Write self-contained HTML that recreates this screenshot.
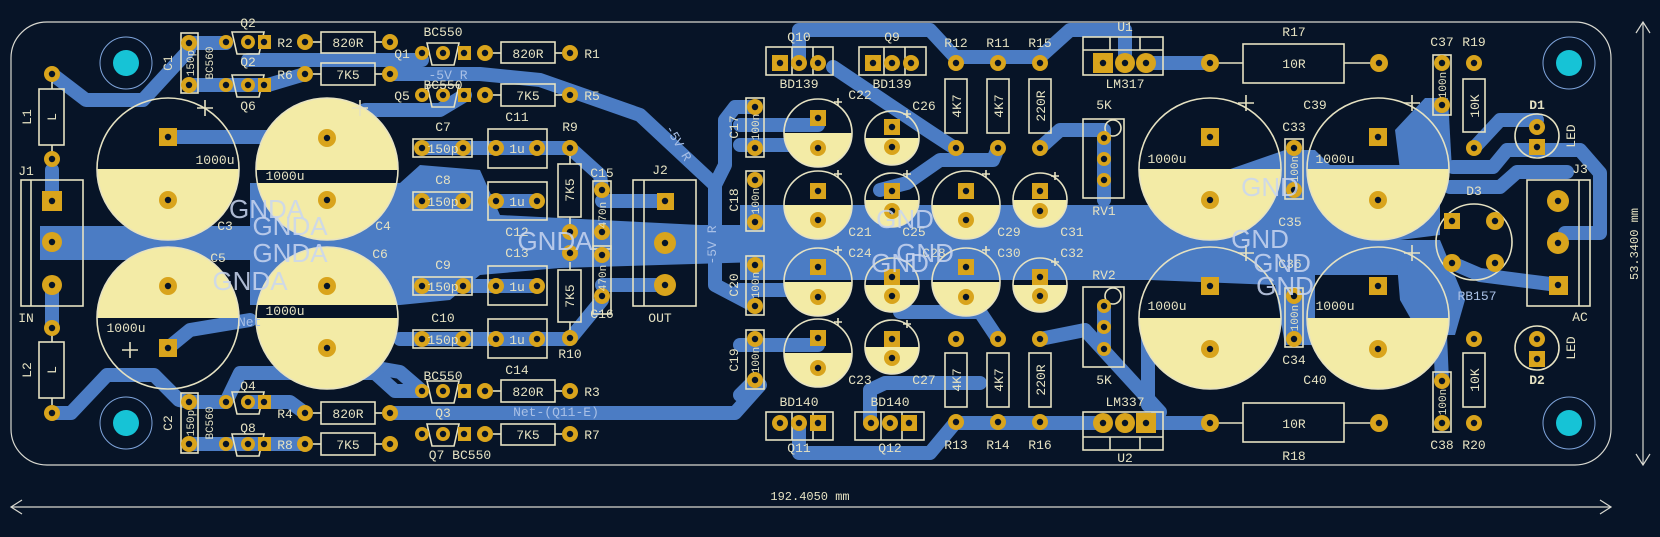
<!DOCTYPE html>
<html><head><meta charset="utf-8"><style>
html,body{margin:0;padding:0;background:#071427;}
svg{display:block}
.tr{fill:none;stroke:#4b7cc4;stroke-linecap:round;stroke-linejoin:round}
.pour{fill:#4b7cc4}
.s{fill:none;stroke:#e6e2c2;stroke-width:1.6}
.y{fill:#f3eba6}
.pd{fill:#d9a41c}
.h{fill:#071427}
.hh circle{fill:#071427;r:3.2px}
.hs circle{fill:#071427;r:3.5px}
text{font-family:"Liberation Mono","DejaVu Sans Mono",monospace;fill:#e6e2c2;font-size:13px}
.g{fill:#c9d6f0;font-family:"Liberation Sans",sans-serif;font-size:26px;opacity:.85}
.b{fill:#a9c0e6}
</style></head><body>
<svg width="1660" height="537" viewBox="0 0 1660 537" xmlns="http://www.w3.org/2000/svg">
<rect width="1660" height="537" fill="#071427"/>
<rect x="11" y="22" width="1600" height="443" rx="36" fill="none" stroke="#d8d8d0" stroke-width="1.2"/>
<line x1="11" y1="507" x2="1611" y2="507" stroke="#d8d8d0" stroke-width="1.2"/>
<path d="M22 500 L11 507 L22 514 M1600 500 L1611 507 L1600 514" fill="none" stroke="#d8d8d0" stroke-width="1.2"/>
<text x="810" y="500" text-anchor="middle" style="font-size:12px">192.4050 mm</text>
<line x1="1643" y1="22" x2="1643" y2="465" stroke="#d8d8d0" stroke-width="1.2"/>
<path d="M1636 33 L1643 22 L1650 33 M1636 454 L1643 465 L1650 454" fill="none" stroke="#d8d8d0" stroke-width="1.2"/>
<text transform="translate(1638,244) rotate(-90)" text-anchor="middle" style="font-size:12px">53.3400 mm</text>

<polygon class="pour" points="40,226 250,226 250,183 400,183 420,165 480,170 500,215 560,218 700,225 760,225 760,262 560,268 480,275 450,300 400,305 250,305 250,260 40,260"/>
<polygon class="pour" points="740,205 1150,205 1170,190 1285,150 1315,150 1330,165 1440,165 1440,235 1400,240 1400,275 1315,275 1315,345 1285,345 1275,285 1150,280 740,280"/>
<polygon class="pour" points="1395,130 1425,98 1448,98 1452,170 1400,170"/>
<polygon class="pour" points="1395,240 1440,240 1465,300 1455,335 1420,335 1400,300"/>

<g class="tr" stroke-width="14">
<polyline points="52,74 86,100 143,100 189,50"/>
<polyline points="189,43 226,43"/>
<polyline points="248,60 422,60"/>
<polyline points="189,85 268,85 305,74"/>
<polyline points="390,74 480,74 540,80 640,115 715,185 715,285 755,306"/>
<polyline points="755,107 735,107 725,120 725,165 715,185"/>
<polyline points="168,137 327,137"/>
<polyline points="327,137 365,110 440,110 465,95"/>
<polyline points="422,148 570,148 600,175 602,190"/>
<polyline points="390,201 537,201"/>
<polyline points="400,286 537,286"/>
<polyline points="400,339 570,339 602,300"/>
<polyline points="327,348 360,365 400,372 422,391"/>
<polyline points="390,413 735,413 760,385"/>
<polyline points="52,413 71,413 107,375 154,375 179,400 189,402"/>
<polyline points="189,402 226,402"/>
<polyline points="248,402 290,402 305,413"/>
<polyline points="189,444 305,444"/>
<polyline points="226,402 240,373 375,373 395,391 422,391"/>
<polyline points="52,170 52,200"/>
<polyline points="52,285 52,328"/>
<polyline points="168,348 190,330 250,320"/>
<polyline points="602,201 665,201"/>
<polyline points="602,285 665,285"/>
<polyline points="799,63 799,30 930,30 955,57 1040,57 1070,30 1125,30 1125,63"/>
<polyline points="833,67 927,130 953,147"/>
<polyline points="880,190 907,183 940,160 993,160 998,148"/>
<polyline points="1040,148 1060,130 1104,130 1104,200"/>
<polyline points="740,125 818,125"/>
<polyline points="740,145 800,145"/>
<polyline points="740,290 818,290"/>
<polyline points="740,345 818,345"/>
<polyline points="755,380 740,395"/>
<polyline points="799,423 799,453 930,453 955,423 1104,423"/>
<polyline points="870,423 870,390 885,383 980,383"/>
<polyline points="900,312 980,312 998,339"/>
<polyline points="1040,339 1085,330 1140,390 1160,412"/>
<polyline points="1104,306 1104,349"/>
<polyline points="1146,63 1210,63"/>
<polyline points="1146,423 1210,423"/>
<polyline points="1148,330 1148,405"/>
<polyline points="1474,148 1500,120 1537,120"/>
<polyline points="1453,167 1493,167 1507,150 1580,150 1600,173 1600,233 1565,233"/>
<polyline points="1450,187 1500,187 1517,172 1567,172"/>
<polyline points="1452,263 1480,275 1558,285"/>
<polyline points="1440,335 1442,381"/>
</g>

<g class="y">
<path d="M97 169 A71 71 0 0 0 239 169 Z"/>
<path d="M97 318 A71 71 0 0 1 239 318 Z"/>
<circle cx="327" cy="169" r="71"/>
<circle cx="327" cy="318" r="71"/>
<path d="M1139 169 A71 71 0 0 0 1281 169 Z"/>
<path d="M1307 169 A71 71 0 0 0 1449 169 Z"/>
<path d="M1139 318 A71 71 0 0 0 1281 318 Z"/>
<path d="M1307 318 A71 71 0 0 0 1449 318 Z"/>
<path d="M784 133 A34 34 0 0 0 852 133 Z"/>
<path d="M784 205 A34 34 0 0 0 852 205 Z"/>
<path d="M932 205 A34 34 0 0 0 1000 205 Z"/>
<path d="M784 282 A34 34 0 0 0 852 282 Z"/>
<path d="M932 282 A34 34 0 0 0 1000 282 Z"/>
<path d="M784 353 A34 34 0 0 0 852 353 Z"/>
<path d="M865 138 A27 27 0 0 0 919 138 Z"/>
<path d="M865 200 A27 27 0 0 0 919 200 Z"/>
<path d="M1013 200 A27 27 0 0 0 1067 200 Z"/>
<path d="M865 285 A27 27 0 0 0 919 285 Z"/>
<path d="M1013 285 A27 27 0 0 0 1067 285 Z"/>
<path d="M865 347 A27 27 0 0 0 919 347 Z"/>
</g>
<rect x="256" y="170" width="142" height="13" fill="#071427"/>
<rect x="256" y="305" width="142" height="13" fill="#071427"/>

<g class="s">
<circle cx="168" cy="169" r="71"/><circle cx="168" cy="318" r="71"/>
<circle cx="327" cy="169" r="71"/><circle cx="327" cy="318" r="71"/>
<circle cx="1210" cy="169" r="71"/><circle cx="1378" cy="169" r="71"/>
<circle cx="1210" cy="318" r="71"/><circle cx="1378" cy="318" r="71"/>
<circle cx="818" cy="133" r="34"/><circle cx="818" cy="205" r="34"/><circle cx="966" cy="205" r="34"/>
<circle cx="818" cy="282" r="34"/><circle cx="966" cy="282" r="34"/><circle cx="818" cy="353" r="34"/>
<circle cx="892" cy="138" r="27"/><circle cx="892" cy="200" r="27"/><circle cx="1040" cy="200" r="27"/>
<circle cx="892" cy="285" r="27"/><circle cx="1040" cy="285" r="27"/><circle cx="892" cy="347" r="27"/>
<path d="M205 100v16M197 108h16 M360 100v16M352 108h16 M130 342v16M122 350h16 M1246 95v16M1238 103h16 M1412 95v16M1404 103h16 M1412 245v16M1404 253h16 M1246 245v16M1238 253h16"/>
<path d="M838 98v8M834 102h8 M907 110v8M903 114h8 M838 170v8M834 174h8 M907 170v8M903 174h8 M986 170v8M982 174h8 M1055 172v8M1051 176h8 M838 246v8M834 250h8 M986 246v8M982 250h8 M1055 258v8M1051 262h8 M838 318v8M834 322h8 M907 320v8M903 324h8"/>
<rect x="39" y="89" width="25" height="56"/><rect x="39" y="342" width="25" height="56"/>
<line x1="52" y1="82" x2="52" y2="89"/><line x1="52" y1="145" x2="52" y2="152"/>
<line x1="52" y1="335" x2="52" y2="342"/><line x1="52" y1="398" x2="52" y2="405"/>
<rect x="21" y="180" width="62" height="126"/><line x1="31" y1="180" x2="31" y2="306"/>
<rect x="181" y="33" width="17" height="60"/><rect x="181" y="393" width="17" height="60"/>
<path d="M232 32 h32 l-5 22 h-22 z M232 75 h32 l-5 22 h-22 z M232 392 h32 l-5 22 h-22 z M232 434 h32 l-5 22 h-22 z"/>
<path d="M427 43 h32 l-5 22 h-22 z M427 85 h32 l-5 22 h-22 z M427 381 h32 l-5 22 h-22 z M427 424 h32 l-5 22 h-22 z"/>
<rect x="321" y="32" width="54" height="21"/><rect x="321" y="63" width="54" height="22"/>
<rect x="321" y="402" width="54" height="22"/><rect x="321" y="433" width="54" height="22"/>
<line x1="313" y1="42" x2="321" y2="42"/><line x1="375" y1="42" x2="382" y2="42"/>
<line x1="313" y1="74" x2="321" y2="74"/><line x1="375" y1="74" x2="382" y2="74"/>
<line x1="313" y1="413" x2="321" y2="413"/><line x1="375" y1="413" x2="382" y2="413"/>
<line x1="313" y1="444" x2="321" y2="444"/><line x1="375" y1="444" x2="382" y2="444"/>
<rect x="501" y="42" width="54" height="21"/><rect x="501" y="84" width="54" height="22"/>
<rect x="501" y="380" width="54" height="22"/><rect x="501" y="424" width="54" height="21"/>
<line x1="493" y1="53" x2="501" y2="53"/><line x1="555" y1="53" x2="562" y2="53"/>
<line x1="493" y1="95" x2="501" y2="95"/><line x1="555" y1="95" x2="562" y2="95"/>
<line x1="493" y1="391" x2="501" y2="391"/><line x1="555" y1="391" x2="562" y2="391"/>
<line x1="493" y1="434" x2="501" y2="434"/><line x1="555" y1="434" x2="562" y2="434"/>
<rect x="413" y="139" width="59" height="18"/><rect x="413" y="192" width="59" height="18"/>
<rect x="413" y="277" width="59" height="18"/><rect x="413" y="330" width="59" height="18"/>
<rect x="488" y="129" width="59" height="39"/><rect x="488" y="182" width="59" height="38"/>
<rect x="488" y="266" width="59" height="39"/><rect x="488" y="319" width="59" height="39"/>
<rect x="558" y="164" width="23" height="53"/><rect x="558" y="270" width="23" height="52"/>
<line x1="570" y1="156" x2="570" y2="164"/><line x1="570" y1="217" x2="570" y2="225"/>
<line x1="570" y1="262" x2="570" y2="270"/><line x1="570" y1="322" x2="570" y2="330"/>
<rect x="593" y="181" width="18" height="68"/><rect x="593" y="246" width="18" height="68"/>
<rect x="633" y="180" width="63" height="126"/><line x1="644" y1="180" x2="644" y2="306"/>
<rect x="746" y="98" width="18" height="59"/><rect x="746" y="171" width="18" height="60"/>
<rect x="746" y="256" width="18" height="59"/><rect x="746" y="330" width="18" height="59"/>
<rect x="766" y="47" width="67" height="28"/><line x1="792" y1="47" x2="792" y2="75"/><line x1="813" y1="47" x2="813" y2="75"/>
<rect x="859" y="47" width="67" height="28"/><line x1="884" y1="47" x2="884" y2="75"/><line x1="905" y1="47" x2="905" y2="75"/>
<rect x="766" y="412" width="67" height="28"/><line x1="792" y1="412" x2="792" y2="440"/><line x1="813" y1="412" x2="813" y2="440"/>
<rect x="855" y="412" width="69" height="28"/><line x1="881" y1="412" x2="881" y2="440"/><line x1="902" y1="412" x2="902" y2="440"/>
<rect x="945" y="79" width="22" height="54"/><rect x="987" y="79" width="22" height="54"/><rect x="1029" y="79" width="22" height="54"/>
<rect x="945" y="353" width="22" height="54"/><rect x="987" y="353" width="22" height="54"/><rect x="1029" y="353" width="22" height="54"/>
<rect x="1083" y="37" width="80" height="38"/><line x1="1083" y1="50" x2="1163" y2="50"/><line x1="1110" y1="37" x2="1110" y2="50"/><line x1="1140" y1="37" x2="1140" y2="50"/>
<rect x="1083" y="412" width="80" height="38"/><line x1="1083" y1="437" x2="1163" y2="437"/><line x1="1110" y1="437" x2="1110" y2="450"/><line x1="1140" y1="437" x2="1140" y2="450"/>
<rect x="1083" y="119" width="41" height="79"/><circle cx="1113" cy="128" r="8"/>
<rect x="1083" y="287" width="41" height="80"/><circle cx="1113" cy="296" r="8"/>
<rect x="1243" y="44" width="101" height="39"/><line x1="1218" y1="63" x2="1243" y2="63"/><line x1="1344" y1="63" x2="1371" y2="63"/>
<rect x="1243" y="403" width="101" height="39"/><line x1="1218" y1="423" x2="1243" y2="423"/><line x1="1344" y1="423" x2="1371" y2="423"/>
<rect x="1285" y="139" width="18" height="60"/><rect x="1285" y="288" width="18" height="59"/>
<rect x="1433" y="55" width="18" height="60"/><rect x="1433" y="372" width="18" height="60"/>
<rect x="1463" y="79" width="22" height="53"/><rect x="1463" y="353" width="22" height="54"/>
<circle cx="1537" cy="136" r="22"/><circle cx="1537" cy="348" r="22"/>
<circle cx="1474" cy="242" r="38"/>
<rect x="1527" y="180" width="63" height="126"/><line x1="1579" y1="180" x2="1579" y2="306"/>
</g>

<g>
<circle cx="126" cy="63" r="26" fill="none" stroke="#7fa5dc" stroke-width="1"/><circle cx="126" cy="63" r="13" fill="#16c3d6"/>
<circle cx="126" cy="423" r="26" fill="none" stroke="#7fa5dc" stroke-width="1"/><circle cx="126" cy="423" r="13" fill="#16c3d6"/>
<circle cx="1569" cy="63" r="26" fill="none" stroke="#7fa5dc" stroke-width="1"/><circle cx="1569" cy="63" r="13" fill="#16c3d6"/>
<circle cx="1569" cy="423" r="26" fill="none" stroke="#7fa5dc" stroke-width="1"/><circle cx="1569" cy="423" r="13" fill="#16c3d6"/>
</g>

<g class="pd">
<circle cx="52" cy="74" r="8"/><circle cx="52" cy="159" r="8"/><circle cx="52" cy="242" r="10"/><circle cx="52" cy="285" r="10"/>
<circle cx="52" cy="328" r="8"/><circle cx="52" cy="413" r="8"/>
<circle cx="189" cy="43" r="8"/><circle cx="189" cy="85" r="8"/><circle cx="189" cy="402" r="8"/><circle cx="189" cy="444" r="8"/>
<circle cx="226" cy="42" r="7"/><circle cx="248" cy="42" r="7"/><circle cx="226" cy="85" r="7"/><circle cx="248" cy="85" r="7"/>
<circle cx="226" cy="402" r="7"/><circle cx="248" cy="402" r="7"/><circle cx="226" cy="444" r="7"/><circle cx="248" cy="444" r="7"/>
<circle cx="422" cy="53" r="7"/><circle cx="443" cy="53" r="7"/><circle cx="422" cy="95" r="7"/><circle cx="443" cy="95" r="7"/>
<circle cx="422" cy="391" r="7"/><circle cx="443" cy="391" r="7"/><circle cx="422" cy="434" r="7"/><circle cx="443" cy="434" r="7"/>
<circle cx="305" cy="42" r="8"/><circle cx="390" cy="42" r="8"/><circle cx="305" cy="74" r="8"/><circle cx="390" cy="74" r="8"/>
<circle cx="305" cy="413" r="8"/><circle cx="390" cy="413" r="8"/><circle cx="305" cy="444" r="8"/><circle cx="390" cy="444" r="8"/>
<circle cx="485" cy="53" r="8"/><circle cx="570" cy="53" r="8"/><circle cx="485" cy="95" r="8"/><circle cx="570" cy="95" r="8"/>
<circle cx="485" cy="391" r="8"/><circle cx="570" cy="391" r="8"/><circle cx="485" cy="434" r="8"/><circle cx="570" cy="434" r="8"/>
<circle cx="422" cy="148" r="8"/><circle cx="463" cy="148" r="8"/><circle cx="496" cy="148" r="8"/><circle cx="537" cy="148" r="8"/>
<circle cx="422" cy="201" r="8"/><circle cx="463" cy="201" r="8"/><circle cx="496" cy="201" r="8"/><circle cx="537" cy="201" r="8"/>
<circle cx="422" cy="286" r="8"/><circle cx="463" cy="286" r="8"/><circle cx="496" cy="286" r="8"/><circle cx="537" cy="286" r="8"/>
<circle cx="422" cy="339" r="8"/><circle cx="463" cy="339" r="8"/><circle cx="496" cy="339" r="8"/><circle cx="537" cy="339" r="8"/>
<circle cx="570" cy="148" r="8"/><circle cx="570" cy="232" r="8"/><circle cx="570" cy="253" r="8"/><circle cx="570" cy="338" r="8"/>
<circle cx="602" cy="190" r="8"/><circle cx="602" cy="232" r="8"/><circle cx="602" cy="255" r="8"/><circle cx="602" cy="296" r="8"/>
<circle cx="665" cy="243" r="11"/><circle cx="665" cy="285" r="11"/>
<circle cx="755" cy="107" r="8"/><circle cx="755" cy="148" r="8"/><circle cx="755" cy="180" r="8"/><circle cx="755" cy="222" r="8"/>
<circle cx="755" cy="265" r="8"/><circle cx="755" cy="306" r="8"/><circle cx="755" cy="339" r="8"/><circle cx="755" cy="380" r="8"/>
<circle cx="799" cy="63" r="8"/><circle cx="818" cy="63" r="8"/><circle cx="892" cy="63" r="8"/><circle cx="911" cy="63" r="8"/>
<circle cx="780" cy="423" r="8"/><circle cx="799" cy="423" r="8"/><circle cx="871" cy="423" r="8"/><circle cx="890" cy="423" r="8"/>
<circle cx="956" cy="63" r="8"/><circle cx="998" cy="63" r="8"/><circle cx="1040" cy="63" r="8"/>
<circle cx="956" cy="148" r="8"/><circle cx="998" cy="148" r="8"/><circle cx="1040" cy="148" r="8"/>
<circle cx="956" cy="339" r="8"/><circle cx="998" cy="339" r="8"/><circle cx="1040" cy="339" r="8"/>
<circle cx="956" cy="422" r="8"/><circle cx="998" cy="422" r="8"/><circle cx="1040" cy="422" r="8"/>
<circle cx="1125" cy="63" r="10"/><circle cx="1146" cy="63" r="10"/><circle cx="1103" cy="423" r="10"/><circle cx="1125" cy="423" r="10"/>
<circle cx="1104" cy="138" r="7"/><circle cx="1104" cy="159" r="7"/><circle cx="1104" cy="180" r="7"/>
<circle cx="1104" cy="306" r="7"/><circle cx="1104" cy="327" r="7"/><circle cx="1104" cy="349" r="7"/>
<circle cx="818" cy="148" r="8"/><circle cx="818" cy="220" r="8"/><circle cx="818" cy="297" r="8"/><circle cx="818" cy="368" r="8"/>
<circle cx="892" cy="147" r="8"/><circle cx="892" cy="211" r="8"/><circle cx="892" cy="296" r="8"/><circle cx="892" cy="358" r="8"/>
<circle cx="966" cy="220" r="8"/><circle cx="966" cy="297" r="8"/><circle cx="1040" cy="211" r="8"/><circle cx="1040" cy="296" r="8"/>
<circle cx="168" cy="200" r="9"/><circle cx="168" cy="286" r="9"/><circle cx="327" cy="200" r="9"/><circle cx="327" cy="286" r="9"/>
<circle cx="327" cy="138" r="9"/><circle cx="327" cy="348" r="9"/>
<circle cx="1210" cy="200" r="9"/><circle cx="1378" cy="200" r="9"/><circle cx="1210" cy="349" r="9"/><circle cx="1378" cy="349" r="9"/>
<circle cx="1210" cy="63" r="9"/><circle cx="1379" cy="63" r="9"/><circle cx="1210" cy="423" r="9"/><circle cx="1379" cy="423" r="9"/>
<circle cx="1294" cy="148" r="8"/><circle cx="1294" cy="190" r="8"/><circle cx="1294" cy="296" r="8"/><circle cx="1294" cy="339" r="8"/>
<circle cx="1442" cy="63" r="8"/><circle cx="1442" cy="105" r="8"/><circle cx="1442" cy="381" r="8"/><circle cx="1442" cy="423" r="8"/>
<circle cx="1474" cy="63" r="8"/><circle cx="1474" cy="148" r="8"/><circle cx="1474" cy="339" r="8"/><circle cx="1474" cy="423" r="8"/>
<circle cx="1537" cy="127" r="8"/><circle cx="1537" cy="339" r="8"/>
<circle cx="1495" cy="221" r="9"/><circle cx="1452" cy="263" r="9"/><circle cx="1495" cy="263" r="9"/>
<circle cx="1558" cy="201" r="11"/><circle cx="1558" cy="243" r="11"/>
</g>
<g class="pd">
<rect x="42" y="191" width="20" height="20"/>
<rect x="657" y="193" width="17" height="17"/><rect x="1549" y="276" width="19" height="19"/>
<rect x="258" y="35" width="13" height="14"/><rect x="258" y="78" width="13" height="14"/><rect x="258" y="395" width="13" height="14"/><rect x="258" y="437" width="13" height="14"/>
<rect x="458" y="46" width="13" height="14"/><rect x="458" y="88" width="13" height="14"/><rect x="458" y="384" width="13" height="14"/><rect x="458" y="427" width="13" height="14"/>
<rect x="772" y="55" width="16" height="16"/><rect x="865" y="55" width="16" height="16"/>
<rect x="810" y="415" width="16" height="16"/><rect x="901" y="415" width="16" height="16"/>
<rect x="1093" y="53" width="20" height="20"/><rect x="1136" y="413" width="20" height="20"/>
<rect x="810" y="110" width="16" height="16"/><rect x="810" y="183" width="16" height="16"/><rect x="810" y="259" width="16" height="16"/><rect x="810" y="330" width="16" height="16"/>
<rect x="884" y="119" width="16" height="16"/><rect x="884" y="183" width="16" height="16"/><rect x="884" y="269" width="16" height="16"/><rect x="884" y="331" width="16" height="16"/>
<rect x="958" y="183" width="16" height="16"/><rect x="958" y="259" width="16" height="16"/><rect x="1032" y="183" width="16" height="16"/><rect x="1032" y="269" width="16" height="16"/>
<rect x="159" y="128" width="18" height="18"/><rect x="159" y="339" width="18" height="18"/>
<rect x="1201" y="128" width="18" height="18"/><rect x="1369" y="128" width="18" height="18"/><rect x="1201" y="277" width="18" height="18"/><rect x="1369" y="277" width="18" height="18"/>
<rect x="1529" y="139" width="16" height="16"/><rect x="1529" y="351" width="16" height="16"/>
<rect x="1444" y="213" width="16" height="16"/>
</g>
<!-- drill holes for all pads -->
<g class="hh">
<circle cx="52" cy="74"/><circle cx="52" cy="159"/><circle cx="52" cy="242"/><circle cx="52" cy="285"/><circle cx="52" cy="328"/><circle cx="52" cy="413"/><circle cx="52" cy="201"/>
<circle cx="189" cy="43"/><circle cx="189" cy="85"/><circle cx="189" cy="402"/><circle cx="189" cy="444"/>
<circle cx="226" cy="42"/><circle cx="248" cy="42"/><circle cx="226" cy="85"/><circle cx="248" cy="85"/>
<circle cx="226" cy="402"/><circle cx="248" cy="402"/><circle cx="226" cy="444"/><circle cx="248" cy="444"/>
<circle cx="264" cy="42"/><circle cx="264" cy="85"/><circle cx="264" cy="402"/><circle cx="264" cy="444"/>
<circle cx="422" cy="53"/><circle cx="443" cy="53"/><circle cx="422" cy="95"/><circle cx="443" cy="95"/>
<circle cx="422" cy="391"/><circle cx="443" cy="391"/><circle cx="422" cy="434"/><circle cx="443" cy="434"/>
<circle cx="464" cy="53"/><circle cx="464" cy="95"/><circle cx="464" cy="391"/><circle cx="464" cy="434"/>
<circle cx="305" cy="42"/><circle cx="390" cy="42"/><circle cx="305" cy="74"/><circle cx="390" cy="74"/>
<circle cx="305" cy="413"/><circle cx="390" cy="413"/><circle cx="305" cy="444"/><circle cx="390" cy="444"/>
<circle cx="485" cy="53"/><circle cx="570" cy="53"/><circle cx="485" cy="95"/><circle cx="570" cy="95"/>
<circle cx="485" cy="391"/><circle cx="570" cy="391"/><circle cx="485" cy="434"/><circle cx="570" cy="434"/>
<circle cx="422" cy="148"/><circle cx="463" cy="148"/><circle cx="496" cy="148"/><circle cx="537" cy="148"/>
<circle cx="422" cy="201"/><circle cx="463" cy="201"/><circle cx="496" cy="201"/><circle cx="537" cy="201"/>
<circle cx="422" cy="286"/><circle cx="463" cy="286"/><circle cx="496" cy="286"/><circle cx="537" cy="286"/>
<circle cx="422" cy="339"/><circle cx="463" cy="339"/><circle cx="496" cy="339"/><circle cx="537" cy="339"/>
<circle cx="570" cy="148"/><circle cx="570" cy="232"/><circle cx="570" cy="253"/><circle cx="570" cy="338"/>
<circle cx="602" cy="190"/><circle cx="602" cy="232"/><circle cx="602" cy="255"/><circle cx="602" cy="296"/>
<circle cx="665" cy="201"/><circle cx="665" cy="243"/><circle cx="665" cy="285"/>
<circle cx="755" cy="107"/><circle cx="755" cy="148"/><circle cx="755" cy="180"/><circle cx="755" cy="222"/>
<circle cx="755" cy="265"/><circle cx="755" cy="306"/><circle cx="755" cy="339"/><circle cx="755" cy="380"/>
<circle cx="780" cy="63"/><circle cx="799" cy="63"/><circle cx="818" cy="63"/><circle cx="873" cy="63"/><circle cx="892" cy="63"/><circle cx="911" cy="63"/>
<circle cx="780" cy="423"/><circle cx="799" cy="423"/><circle cx="818" cy="423"/><circle cx="871" cy="423"/><circle cx="890" cy="423"/><circle cx="909" cy="423"/>
<circle cx="956" cy="63"/><circle cx="998" cy="63"/><circle cx="1040" cy="63"/>
<circle cx="956" cy="148"/><circle cx="998" cy="148"/><circle cx="1040" cy="148"/>
<circle cx="956" cy="339"/><circle cx="998" cy="339"/><circle cx="1040" cy="339"/>
<circle cx="956" cy="422"/><circle cx="998" cy="422"/><circle cx="1040" cy="422"/>
<circle cx="1103" cy="63"/><circle cx="1125" cy="63"/><circle cx="1146" cy="63"/><circle cx="1103" cy="423"/><circle cx="1125" cy="423"/><circle cx="1146" cy="423"/>
<circle cx="1104" cy="138"/><circle cx="1104" cy="159"/><circle cx="1104" cy="180"/>
<circle cx="1104" cy="306"/><circle cx="1104" cy="327"/><circle cx="1104" cy="349"/>
<circle cx="818" cy="118"/><circle cx="818" cy="191"/><circle cx="818" cy="267"/><circle cx="818" cy="338"/>
<circle cx="818" cy="148"/><circle cx="818" cy="220"/><circle cx="818" cy="297"/><circle cx="818" cy="368"/>
<circle cx="892" cy="127"/><circle cx="892" cy="191"/><circle cx="892" cy="277"/><circle cx="892" cy="339"/>
<circle cx="892" cy="147"/><circle cx="892" cy="211"/><circle cx="892" cy="296"/><circle cx="892" cy="358"/>
<circle cx="966" cy="191"/><circle cx="966" cy="267"/><circle cx="1040" cy="191"/><circle cx="1040" cy="277"/>
<circle cx="966" cy="220"/><circle cx="966" cy="297"/><circle cx="1040" cy="211"/><circle cx="1040" cy="296"/>
<circle cx="168" cy="137"/><circle cx="168" cy="200"/><circle cx="168" cy="286"/><circle cx="168" cy="348"/>
<circle cx="327" cy="138"/><circle cx="327" cy="200"/><circle cx="327" cy="286"/><circle cx="327" cy="348"/>
<circle cx="1210" cy="137"/><circle cx="1378" cy="137"/><circle cx="1210" cy="286"/><circle cx="1378" cy="286"/>
<circle cx="1210" cy="200"/><circle cx="1378" cy="200"/><circle cx="1210" cy="349"/><circle cx="1378" cy="349"/>
<circle cx="1210" cy="63"/><circle cx="1379" cy="63"/><circle cx="1210" cy="423"/><circle cx="1379" cy="423"/>
<circle cx="1294" cy="148"/><circle cx="1294" cy="190"/><circle cx="1294" cy="296"/><circle cx="1294" cy="339"/>
<circle cx="1442" cy="63"/><circle cx="1442" cy="105"/><circle cx="1442" cy="381"/><circle cx="1442" cy="423"/>
<circle cx="1474" cy="63"/><circle cx="1474" cy="148"/><circle cx="1474" cy="339"/><circle cx="1474" cy="423"/>
<circle cx="1537" cy="127"/><circle cx="1537" cy="147"/><circle cx="1537" cy="339"/><circle cx="1537" cy="359"/>
<circle cx="1452" cy="221"/><circle cx="1495" cy="221"/><circle cx="1452" cy="263"/><circle cx="1495" cy="263"/>
<circle cx="1558" cy="201"/><circle cx="1558" cy="243"/><circle cx="1558" cy="285"/>
</g>

<text x="31" y="117" transform="rotate(-90 31 117)" text-anchor="middle">L1</text>
<text x="56" y="117" transform="rotate(-90 56 117)" text-anchor="middle">L</text>
<text x="31" y="370" transform="rotate(-90 31 370)" text-anchor="middle">L2</text>
<text x="56" y="370" transform="rotate(-90 56 370)" text-anchor="middle">L</text>
<text x="26" y="175" text-anchor="middle">J1</text>
<text x="26" y="322" text-anchor="middle">IN</text>
<text x="172" y="63" transform="rotate(-90 172 63)" text-anchor="middle">C1</text>
<text x="194" y="63" transform="rotate(-90 194 63)" text-anchor="middle" style="font-size:11px">150p</text>
<text x="213" y="63" transform="rotate(-90 213 63)" text-anchor="middle" style="font-size:11px">BC560</text>
<text x="172" y="423" transform="rotate(-90 172 423)" text-anchor="middle">C2</text>
<text x="194" y="423" transform="rotate(-90 194 423)" text-anchor="middle" style="font-size:11px">150p</text>
<text x="213" y="423" transform="rotate(-90 213 423)" text-anchor="middle" style="font-size:11px">BC560</text>
<text x="248" y="27" text-anchor="middle">Q2</text><text x="248" y="66" text-anchor="middle">Q2</text>
<text x="248" y="110" text-anchor="middle">Q6</text>
<text x="248" y="390" text-anchor="middle">Q4</text><text x="248" y="432" text-anchor="middle">Q8</text>
<text x="285" y="47" text-anchor="middle">R2</text><text x="285" y="79" text-anchor="middle">R6</text>
<text x="285" y="418" text-anchor="middle">R4</text><text x="285" y="449" text-anchor="middle">R8</text>
<text x="348" y="47" text-anchor="middle">820R</text><text x="348" y="79" text-anchor="middle">7K5</text>
<text x="348" y="418" text-anchor="middle">820R</text><text x="348" y="449" text-anchor="middle">7K5</text>
<text x="443" y="36" text-anchor="middle">BC550</text>
<text x="402" y="58" text-anchor="middle">Q1</text>
<text x="448" y="79" text-anchor="middle" class="b">-5V R</text>
<text x="443" y="89" text-anchor="middle">BC550</text>
<text x="402" y="100" text-anchor="middle">Q5</text>
<text x="528" y="58" text-anchor="middle">820R</text><text x="528" y="100" text-anchor="middle">7K5</text>
<text x="528" y="396" text-anchor="middle">820R</text><text x="528" y="439" text-anchor="middle">7K5</text>
<text x="592" y="58" text-anchor="middle">R1</text><text x="592" y="100" text-anchor="middle">R5</text>
<text x="592" y="396" text-anchor="middle">R3</text><text x="592" y="439" text-anchor="middle">R7</text>
<text x="443" y="380" text-anchor="middle">BC550</text>
<text x="443" y="417" text-anchor="middle">Q3</text>
<text x="460" y="459" text-anchor="middle">Q7 BC550</text>
<text x="556" y="416" text-anchor="middle" class="b">Net-(Q11-E)</text>
<text x="443" y="131" text-anchor="middle">C7</text><text x="443" y="184" text-anchor="middle">C8</text>
<text x="443" y="269" text-anchor="middle">C9</text><text x="443" y="322" text-anchor="middle">C10</text>
<text x="517" y="121" text-anchor="middle">C11</text><text x="517" y="236" text-anchor="middle">C12</text>
<text x="517" y="257" text-anchor="middle">C13</text><text x="517" y="374" text-anchor="middle">C14</text>
<text x="443" y="153" text-anchor="middle">150p</text><text x="443" y="206" text-anchor="middle">150p</text>
<text x="443" y="291" text-anchor="middle">150p</text><text x="443" y="344" text-anchor="middle">150p</text>
<text x="517" y="153" text-anchor="middle">1u</text><text x="517" y="206" text-anchor="middle">1u</text>
<text x="517" y="291" text-anchor="middle">1u</text><text x="517" y="344" text-anchor="middle">1u</text>
<text x="570" y="131" text-anchor="middle">R9</text><text x="570" y="358" text-anchor="middle">R10</text>
<text x="574" y="190" transform="rotate(-90 574 190)" text-anchor="middle">7K5</text>
<text x="574" y="296" transform="rotate(-90 574 296)" text-anchor="middle">7K5</text>
<text x="602" y="177" text-anchor="middle">C15</text><text x="602" y="318" text-anchor="middle">C16</text>
<text x="606" y="215" transform="rotate(-90 606 215)" text-anchor="middle" style="font-size:11px">470n</text>
<text x="606" y="278" transform="rotate(-90 606 278)" text-anchor="middle" style="font-size:11px">470n</text>
<text x="660" y="174" text-anchor="middle">J2</text><text x="660" y="322" text-anchor="middle">OUT</text>
<text x="675" y="145" transform="rotate(60 675 145)" text-anchor="middle" class="b">-5V R</text>
<text x="716" y="245" transform="rotate(-90 716 245)" text-anchor="middle" class="b">-5V R</text>
<text x="738" y="127" transform="rotate(-90 738 127)" text-anchor="middle">C17</text>
<text x="738" y="200" transform="rotate(-90 738 200)" text-anchor="middle">C18</text>
<text x="738" y="285" transform="rotate(-90 738 285)" text-anchor="middle">C20</text>
<text x="738" y="360" transform="rotate(-90 738 360)" text-anchor="middle">C19</text>
<text x="759" y="127" transform="rotate(-90 759 127)" text-anchor="middle" style="font-size:11px">100n</text>
<text x="759" y="201" transform="rotate(-90 759 201)" text-anchor="middle" style="font-size:11px">100n</text>
<text x="759" y="285" transform="rotate(-90 759 285)" text-anchor="middle" style="font-size:11px">100n</text>
<text x="759" y="360" transform="rotate(-90 759 360)" text-anchor="middle" style="font-size:11px">100n</text>
<text x="799" y="41" text-anchor="middle">Q10</text><text x="892" y="41" text-anchor="middle">Q9</text>
<text x="799" y="88" text-anchor="middle">BD139</text><text x="892" y="88" text-anchor="middle">BD139</text>
<text x="799" y="406" text-anchor="middle">BD140</text><text x="890" y="406" text-anchor="middle">BD140</text>
<text x="799" y="452" text-anchor="middle">Q11</text><text x="890" y="452" text-anchor="middle">Q12</text>
<text x="860" y="99" text-anchor="middle">C22</text><text x="924" y="110" text-anchor="middle">C26</text>
<text x="860" y="236" text-anchor="middle">C21</text><text x="914" y="236" text-anchor="middle">C25</text>
<text x="1009" y="236" text-anchor="middle">C29</text><text x="1072" y="236" text-anchor="middle">C31</text>
<text x="860" y="257" text-anchor="middle">C24</text><text x="934" y="257" text-anchor="middle">C28</text>
<text x="1009" y="257" text-anchor="middle">C30</text><text x="1072" y="257" text-anchor="middle">C32</text>
<text x="860" y="384" text-anchor="middle">C23</text><text x="924" y="384" text-anchor="middle">C27</text>
<text x="956" y="47" text-anchor="middle">R12</text><text x="998" y="47" text-anchor="middle">R11</text><text x="1040" y="47" text-anchor="middle">R15</text>
<text x="956" y="449" text-anchor="middle">R13</text><text x="998" y="449" text-anchor="middle">R14</text><text x="1040" y="449" text-anchor="middle">R16</text>
<text x="961" y="106" transform="rotate(-90 961 106)" text-anchor="middle">4K7</text>
<text x="1003" y="106" transform="rotate(-90 1003 106)" text-anchor="middle">4K7</text>
<text x="1045" y="106" transform="rotate(-90 1045 106)" text-anchor="middle">220R</text>
<text x="961" y="380" transform="rotate(-90 961 380)" text-anchor="middle">4K7</text>
<text x="1003" y="380" transform="rotate(-90 1003 380)" text-anchor="middle">4K7</text>
<text x="1045" y="380" transform="rotate(-90 1045 380)" text-anchor="middle">220R</text>
<text x="1125" y="31" text-anchor="middle">U1</text><text x="1125" y="88" text-anchor="middle">LM317</text>
<text x="1125" y="406" text-anchor="middle">LM337</text><text x="1125" y="462" text-anchor="middle">U2</text>
<text x="1104" y="109" text-anchor="middle">5K</text><text x="1104" y="215" text-anchor="middle">RV1</text>
<text x="1104" y="279" text-anchor="middle">RV2</text><text x="1104" y="384" text-anchor="middle">5K</text>
<text x="1294" y="36" text-anchor="middle">R17</text><text x="1294" y="68" text-anchor="middle">10R</text>
<text x="1294" y="428" text-anchor="middle">10R</text><text x="1294" y="460" text-anchor="middle">R18</text>
<text x="1294" y="131" text-anchor="middle">C33</text><text x="1315" y="109" text-anchor="middle">C39</text>
<text x="1290" y="226" text-anchor="middle">C35</text><text x="1290" y="268" text-anchor="middle">C36</text>
<text x="1294" y="364" text-anchor="middle">C34</text><text x="1315" y="384" text-anchor="middle">C40</text>
<text x="1442" y="46" text-anchor="middle">C37</text><text x="1474" y="46" text-anchor="middle">R19</text>
<text x="1442" y="449" text-anchor="middle">C38</text><text x="1474" y="449" text-anchor="middle">R20</text>
<text x="1479" y="106" transform="rotate(-90 1479 106)" text-anchor="middle">10K</text>
<text x="1479" y="380" transform="rotate(-90 1479 380)" text-anchor="middle">10K</text>
<text x="1446" y="85" transform="rotate(-90 1446 85)" text-anchor="middle" style="font-size:11px">100n</text>
<text x="1446" y="402" transform="rotate(-90 1446 402)" text-anchor="middle" style="font-size:11px">100n</text>
<text x="1298" y="169" transform="rotate(-90 1298 169)" text-anchor="middle" style="font-size:11px">100n</text>
<text x="1298" y="318" transform="rotate(-90 1298 318)" text-anchor="middle" style="font-size:11px">100n</text>
<text x="1537" y="109" text-anchor="middle" style="font-weight:bold">D1</text>
<text x="1537" y="384" text-anchor="middle" style="font-weight:bold">D2</text>
<text x="1575" y="136" transform="rotate(-90 1575 136)" text-anchor="middle">LED</text>
<text x="1575" y="348" transform="rotate(-90 1575 348)" text-anchor="middle">LED</text>
<text x="1580" y="173" text-anchor="middle">J3</text><text x="1580" y="321" text-anchor="middle">AC</text>
<text x="1474" y="195" text-anchor="middle">D3</text><text x="1477" y="300" text-anchor="middle" class="b">RB157</text>
<text x="215" y="164" text-anchor="middle">1000u</text><text x="126" y="332" text-anchor="middle">1000u</text>
<text x="285" y="180" text-anchor="middle">1000u</text><text x="285" y="315" text-anchor="middle">1000u</text>
<text x="1167" y="163" text-anchor="middle">1000u</text><text x="1335" y="163" text-anchor="middle">1000u</text>
<text x="1167" y="310" text-anchor="middle">1000u</text><text x="1335" y="310" text-anchor="middle">1000u</text>
<text x="225" y="230" text-anchor="middle">C3</text><text x="218" y="262" text-anchor="middle">C5</text>
<text x="383" y="230" text-anchor="middle">C4</text><text x="380" y="258" text-anchor="middle">C6</text>
<text x="229" y="218" class="g" text-anchor="start">GNDA</text>
<text x="290" y="235" class="g" text-anchor="middle">GNDA</text>
<text x="290" y="262" class="g" text-anchor="middle">GNDA</text>
<text x="250" y="290" class="g" text-anchor="middle">GNDA</text>
<text x="555" y="250" class="g" text-anchor="middle">GNDA</text>
<text x="238" y="326" class="b" text-anchor="start">Net</text>
<text x="905" y="228" class="g" text-anchor="middle">GND</text>
<text x="925" y="262" class="g" text-anchor="middle">GND</text>
<text x="900" y="272" class="g" text-anchor="middle">GND</text>
<text x="1270" y="196" class="g" text-anchor="middle">GND</text>
<text x="1260" y="248" class="g" text-anchor="middle">GND</text>
<text x="1282" y="272" class="g" text-anchor="middle">GND</text>
<text x="1285" y="295" class="g" text-anchor="middle">GND</text>
</svg>
</body></html>
